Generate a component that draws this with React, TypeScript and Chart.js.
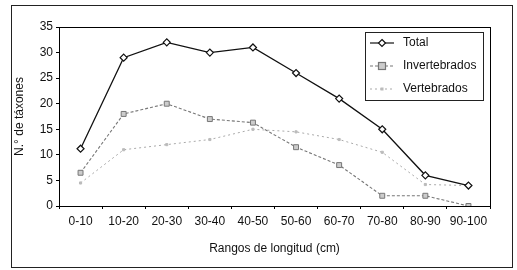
import React, { useEffect, useRef } from "react";
import { Chart, registerables } from "chart.js";

Chart.register(...registerables);

const categories = ["0-10", "10-20", "20-30", "30-40", "40-50", "50-60", "60-70", "70-80", "80-90", "90-100"];
const total = [11.2, 29, 32, 30, 31, 26, 21, 15, 6, 4];
const invertebrados = [6.5, 18, 20, 17, 16.3, 11.5, 8, 2, 2, 0];
const vertebrados = [4.5, 11, 12, 13, 15, 14.5, 13, 10.5, 4.2, 4];
const yTicks = [0, 5, 10, 15, 20, 25, 30, 35];

const FONT = "'Liberation Sans', Arial, sans-serif";

const framePlugin = {
  id: "frame",
  afterDraw(chart: any) {
    const { ctx, chartArea } = chart;
    ctx.save();
    // outer border
    ctx.strokeStyle = "#222";
    ctx.lineWidth = 1;
    ctx.strokeRect(11.5, 5.5, 501, 262);
    // plot frame
    ctx.strokeStyle = "#000";
    ctx.strokeRect(chartArea.left + 0.5, chartArea.top + 0.5, chartArea.right - chartArea.left, chartArea.bottom - chartArea.top);
    // legend
    const lx = 365, ly = 32, lw = 118, lh = 68;
    ctx.fillStyle = "#fff";
    ctx.fillRect(lx, ly, lw, lh);
    ctx.strokeStyle = "#222";
    ctx.strokeRect(lx + 0.5, ly + 0.5, lw, lh);
    const items = [
      { label: "Total", color: "#111", dash: [], marker: "diamond" },
      { label: "Invertebrados", color: "#777", dash: [3, 2], marker: "square" },
      { label: "Vertebrados", color: "#aaa", dash: [2, 3], marker: "tri" },
    ];
    ctx.font = `12px ${FONT}`;
    ctx.textBaseline = "middle";
    items.forEach((it, i) => {
      const y = ly + 11 + i * 23;
      ctx.strokeStyle = it.color;
      ctx.setLineDash(it.dash);
      ctx.lineWidth = 1.2;
      ctx.beginPath();
      ctx.moveTo(lx + 5, y);
      ctx.lineTo(lx + 29, y);
      ctx.stroke();
      ctx.setLineDash([]);
      const cx = lx + 17;
      if (it.marker === "diamond") {
        ctx.fillStyle = "#fff";
        ctx.beginPath();
        ctx.moveTo(cx, y - 3.5);
        ctx.lineTo(cx + 3.5, y);
        ctx.lineTo(cx, y + 3.5);
        ctx.lineTo(cx - 3.5, y);
        ctx.closePath();
        ctx.fill();
        ctx.strokeStyle = "#111";
        ctx.stroke();
      } else if (it.marker === "square") {
        ctx.fillStyle = "#ccc";
        ctx.fillRect(cx - 3.5, y - 3.5, 7, 7);
        ctx.strokeStyle = "#777";
        ctx.strokeRect(cx - 3.5, y - 3.5, 7, 7);
      } else {
        ctx.fillStyle = "#bbb";
        ctx.fillRect(cx - 1.5, y - 1.5, 3, 3);
      }
      ctx.fillStyle = "#111";
      ctx.textAlign = "left";
      ctx.fillText(it.label, lx + 38, y);
    });
    ctx.restore();
  },
};

export default function App() {
  const ref = useRef<HTMLCanvasElement>(null);
  useEffect(() => {
    if (!ref.current) return;
    const chart = new Chart(ref.current, {
      type: "line",
      data: {
        labels: categories,
        datasets: [
          {
            label: "Total",
            data: total,
            borderColor: "#111",
            borderWidth: 1.3,
            pointStyle: "rectRot",
            pointRadius: 3.5,
            pointBackgroundColor: "#fff",
            pointBorderColor: "#111",
            pointBorderWidth: 1.2,
            tension: 0,
          },
          {
            label: "Invertebrados",
            data: invertebrados,
            borderColor: "#777",
            borderWidth: 1.1,
            borderDash: [3, 2],
            pointStyle: "rect",
            pointRadius: 3.5,
            pointBackgroundColor: "#ccc",
            pointBorderColor: "#777",
            pointBorderWidth: 1,
            tension: 0,
          },
          {
            label: "Vertebrados",
            data: vertebrados,
            borderColor: "#aaa",
            borderWidth: 1,
            borderDash: [2, 3],
            pointStyle: "rect",
            pointRadius: 1.5,
            pointBackgroundColor: "#bbb",
            pointBorderColor: "#bbb",
            tension: 0,
          },
        ],
      },
      options: {
        animation: false,
        responsive: false,
        maintainAspectRatio: false,
        layout: { padding: { left: 12, right: 27, top: 27, bottom: 14 } },
        plugins: { legend: { display: false }, tooltip: { enabled: false } },
        scales: {
          x: {
            type: "category",
            offset: true,
            grid: { display: true, drawOnChartArea: false, tickLength: 3, color: "#000", offset: true },
            border: { display: true, color: "#000", width: 1 },
            ticks: { color: "#111", font: { family: FONT, size: 12 }, padding: 5, maxRotation: 0, autoSkip: false },
            title: { display: true, text: "Rangos de longitud (cm)", color: "#111", font: { family: FONT, size: 12 }, padding: { top: 6, bottom: 0 } },
            afterFit: (s: any) => { s.height = 50; },
          },
          y: {
            min: 0,
            max: 35,
            afterBuildTicks: (s: any) => { s.ticks = yTicks.map((v) => ({ value: v })); },
            grid: { display: true, drawOnChartArea: false, tickLength: 3, color: "#000" },
            border: { display: true, color: "#000", width: 1 },
            ticks: { color: "#111", font: { family: FONT, size: 12 }, padding: 3 },
            title: { display: true, text: "N.° de táxones", color: "#111", font: { family: FONT, size: 12 }, padding: { top: 0, bottom: 4 } },
            afterFit: (s: any) => { s.width = 47; },
          },
        },
      },
      plugins: [framePlugin],
    });
    return () => chart.destroy();
  }, []);
  return (
    <div style={{ position: "fixed", left: 0, top: 0, width: 517, height: 270, background: "#fff" }}>
      <canvas ref={ref} width={517} height={270} style={{ width: 517, height: 270, display: "block" }} />
    </div>
  );
}
